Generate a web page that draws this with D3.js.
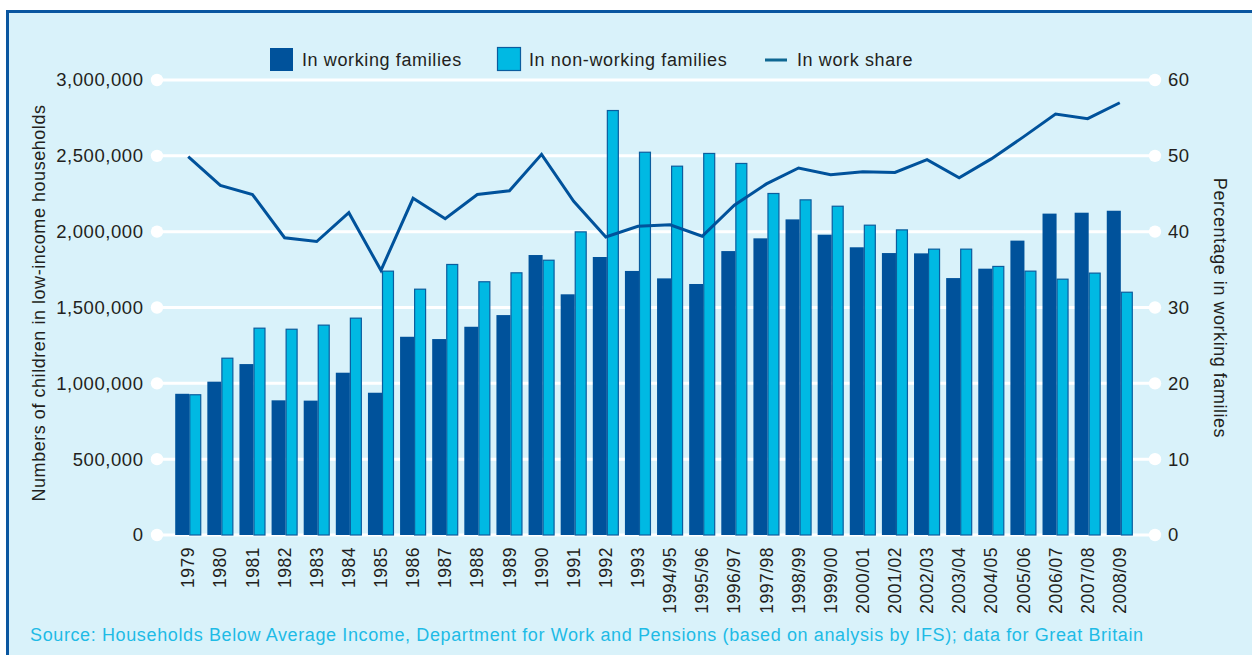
<!DOCTYPE html>
<html>
<head>
<meta charset="utf-8">
<script src="https://cdn.jsdelivr.net/npm/d3@7"></script>
<style>
  body { margin: 0; background: #fff; }
  svg { display: block; font-family: "Liberation Sans", Arial, Helvetica, sans-serif; }
</style>
</head>
<body>
<div id="chart"></div>
<script>
// chart data
var years = ["1979", "1980", "1981", "1982", "1983", "1984", "1985", "1986", "1987", "1988",
  "1989", "1990", "1991", "1992", "1993", "1994/95", "1995/96", "1996/97", "1997/98", "1998/99",
  "1999/00", "2000/01", "2001/02", "2002/03", "2003/04", "2004/05", "2005/06", "2006/07", "2007/08", "2008/09"];

var working = [931000, 1011000, 1127000, 888000, 886000, 1070000, 938000, 1307000, 1292000, 1373000,
  1450000, 1846000, 1587000, 1833000, 1741000, 1692000, 1655000, 1872000, 1956000, 2081000,
  1980000, 1897000, 1859000, 1857000, 1694000, 1756000, 1941000, 2119000, 2125000, 2138000];

var nonWorking = [928000, 1169000, 1367000, 1360000, 1387000, 1433000, 1743000, 1624000, 1787000, 1673000,
  1732000, 1815000, 2002000, 2802000, 2527000, 2435000, 2519000, 2453000, 2255000, 2213000,
  2171000, 2046000, 2015000, 1888000, 1888000, 1774000, 1743000, 1690000, 1730000, 1604000];

var workShare = [49.9, 46.1, 44.9, 39.2, 38.7, 42.5, 34.9, 44.4, 41.7, 44.9,
  45.4, 50.2, 44.0, 39.3, 40.7, 40.9, 39.4, 43.5, 46.3, 48.4,
  47.5, 47.9, 47.8, 49.5, 47.1, 49.6, 52.5, 55.5, 54.9, 57.0];

var leftTicks = [0, 500000, 1000000, 1500000, 2000000, 2500000, 3000000];
var rightTicks = [0, 10, 20, 30, 40, 50, 60];

var svgWidth = 1252;
var svgHeight = 655;

var darkBlue = "#00529b";
var lightBlue = "#00b9e3";
var bg = "#d9f2fa";
var ink = "#231f20";

var svg = d3.select("#chart")
  .append("svg")
  .attr("width", svgWidth)
  .attr("height", svgHeight);

// panel with border
svg.append("rect")
  .attr("x", 7.5)
  .attr("y", 11.5)
  .attr("width", 1260)
  .attr("height", 660)
  .attr("fill", bg)
  .attr("stroke", "#0a56a0")
  .attr("stroke-width", 3);

// scales
var x = d3.scaleBand()
  .domain(years)
  .range([172, 1136])
  .paddingInner(0.19)
  .paddingOuter(0.1);

var yLeft = d3.scaleLinear().domain([0, 3000000]).range([535, 80]);
var yRight = d3.scaleLinear().domain([0, 60]).range([535, 80]);

var gridLeft = 157;
var gridRight = 1155;

// gridlines with dots at both ends
var grid = svg.append("g");
grid.selectAll("line")
  .data(leftTicks)
  .enter()
  .append("line")
  .attr("x1", gridLeft)
  .attr("x2", gridRight)
  .attr("y1", d => yLeft(d))
  .attr("y2", d => yLeft(d))
  .attr("stroke", "#fff")
  .attr("stroke-width", 3);

grid.selectAll(".dotL")
  .data(leftTicks)
  .enter()
  .append("circle")
  .attr("cx", gridLeft)
  .attr("cy", d => yLeft(d))
  .attr("r", 6.2)
  .attr("fill", "#fff");

grid.selectAll(".dotR")
  .data(rightTicks)
  .enter()
  .append("circle")
  .attr("cx", gridRight)
  .attr("cy", d => yRight(d))
  .attr("r", 6.2)
  .attr("fill", "#fff");

// left tick labels
var fmt = d3.format(",");
svg.append("g").selectAll("text")
  .data(leftTicks)
  .enter()
  .append("text")
  .attr("x", 143.5)
  .attr("y", d => yLeft(d))
  .attr("dy", "0.35em")
  .attr("text-anchor", "end")
  .attr("font-size", "18.5px")
  .attr("letter-spacing", "0.55px")
  .attr("fill", ink)
  .text(d => fmt(d));

// right tick labels
svg.append("g").selectAll("text")
  .data(rightTicks)
  .enter()
  .append("text")
  .attr("x", 1168)
  .attr("y", d => yRight(d))
  .attr("dy", "0.35em")
  .attr("font-size", "18.5px")
  .attr("letter-spacing", "0.55px")
  .attr("fill", ink)
  .text(d => d);

// bars
var bw = x.bandwidth();
var darkW = bw * 0.54;

var groups = svg.append("g").selectAll("g")
  .data(years)
  .enter()
  .append("g")
  .attr("transform", d => `translate(${x(d)},0)`);

groups.append("rect")
  .attr("x", 0)
  .attr("y", (d, i) => yLeft(working[i]))
  .attr("width", darkW)
  .attr("height", (d, i) => yLeft(0) - yLeft(working[i]))
  .attr("fill", darkBlue);

groups.append("rect")
  .attr("x", darkW + 0.5)
  .attr("y", (d, i) => yLeft(nonWorking[i]) + 0.5)
  .attr("width", bw - darkW - 1)
  .attr("height", (d, i) => yLeft(0) - yLeft(nonWorking[i]) - 0.5)
  .attr("fill", lightBlue)
  .attr("stroke", "#0b5d9e")
  .attr("stroke-width", 1.2);

// in work share line
var line = d3.line()
  .x((d, i) => x(years[i]) + bw / 2)
  .y(d => yRight(d));

svg.append("path")
  .datum(workShare)
  .attr("d", line)
  .attr("fill", "none")
  .attr("stroke", darkBlue)
  .attr("stroke-width", 3)
  .attr("stroke-linejoin", "miter");

// x labels
svg.append("g").selectAll("text")
  .data(years)
  .enter()
  .append("text")
  .attr("transform", d => `translate(${x(d) + bw / 2},547) rotate(-90)`)
  .attr("dy", "0.35em")
  .attr("text-anchor", "end")
  .attr("font-size", "17.5px")
  .attr("letter-spacing", "0.5px")
  .attr("fill", ink)
  .text(d => d);

// axis titles
svg.append("text")
  .attr("transform", "translate(39,303) rotate(-90)")
  .attr("dy", "0.35em")
  .attr("text-anchor", "middle")
  .attr("font-size", "18px")
  .attr("letter-spacing", "0.54px")
  .attr("fill", ink)
  .text("Numbers of children in low-income households");

svg.append("text")
  .attr("transform", "translate(1220,308) rotate(90)")
  .attr("dy", "0.35em")
  .attr("text-anchor", "middle")
  .attr("font-size", "18px")
  .attr("letter-spacing", "0.54px")
  .attr("fill", ink)
  .text("Percentage in working families");

// legend
var legend = svg.append("g");
legend.append("rect")
  .attr("x", 270).attr("y", 48).attr("width", 23).attr("height", 23)
  .attr("fill", darkBlue);
legend.append("text")
  .attr("x", 302).attr("y", 60).attr("dy", "0.35em")
  .attr("font-size", "18px").attr("letter-spacing", "0.62px").attr("fill", ink)
  .text("In working families");

legend.append("rect")
  .attr("x", 497.5).attr("y", 47.5).attr("width", 23).attr("height", 23)
  .attr("fill", lightBlue).attr("stroke", "#0b5d9e").attr("stroke-width", 1.2);
legend.append("text")
  .attr("x", 529).attr("y", 60).attr("dy", "0.35em")
  .attr("font-size", "18px").attr("letter-spacing", "0.62px").attr("fill", ink)
  .text("In non-working families");

legend.append("line")
  .attr("x1", 765).attr("x2", 787).attr("y1", 60).attr("y2", 60)
  .attr("stroke", "#0e6792").attr("stroke-width", 3);
legend.append("text")
  .attr("x", 797).attr("y", 60).attr("dy", "0.35em")
  .attr("font-size", "18px").attr("letter-spacing", "0.62px").attr("fill", ink)
  .text("In work share");

// source note
svg.append("text")
  .attr("x", 30)
  .attr("y", 641)
  .attr("font-size", "18px")
  .attr("letter-spacing", "0.62px")
  .attr("fill", "#1ebbe6")
  .text("Source: Households Below Average Income, Department for Work and Pensions (based on analysis by IFS); data for Great Britain");
</script>
</body>
</html>
